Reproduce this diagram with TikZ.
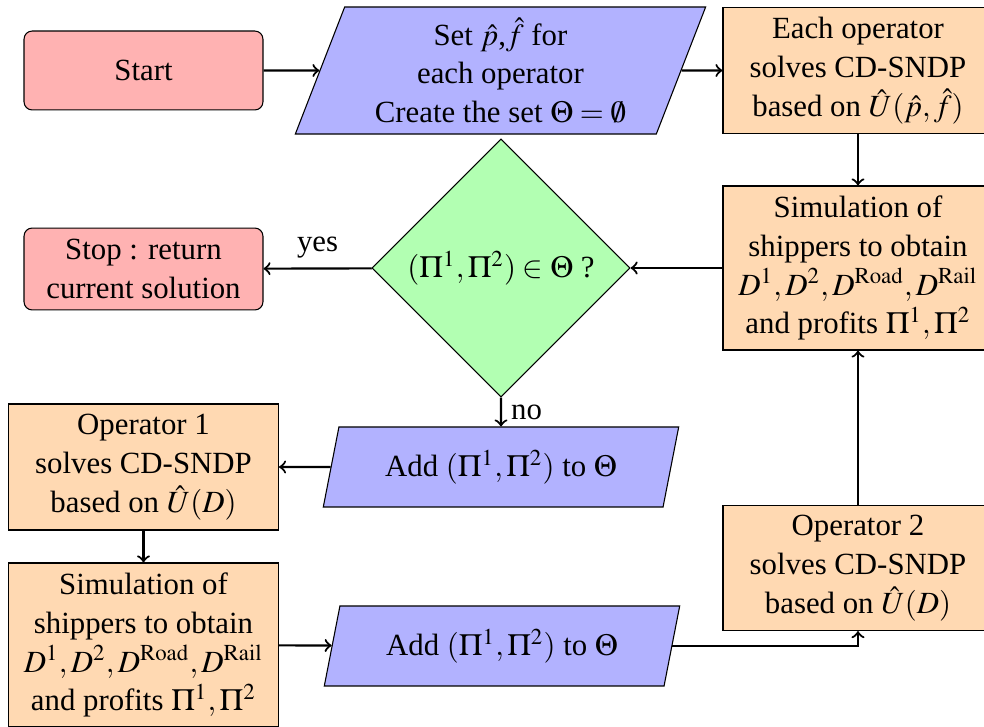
\documentclass[tikz,border=0pt]{standalone}
\usepackage{amsmath}
\usepackage{mathptmx}
\usepackage[no-math]{fontspec}
\setmainfont{Liberation Serif}
\usepackage{xcolor}
\usetikzlibrary{shapes.geometric}

\begin{document}
\begin{tikzpicture}[x=0.37pt,y=-0.37pt,
    font=\rmfamily\fontsize{11.4pt}{14.4pt}\selectfont,
    every node/.style={align=center},
    term/.style={draw,rounded corners=3pt,fill=red!30,minimum width=88.4pt},
    io/.style={draw,trapezium,trapezium stretches=true,fill=blue!30},
    proc/.style={draw,fill=orange!30,minimum width=99.9pt},
    test/.style={draw,diamond,fill=green!30,minimum width=95.5pt,minimum height=95.5pt,inner sep=0pt},
    flow/.style={->,thick}]
      \useasboundingbox (0,0) rectangle (984,727);
      % first row
      \node[term,minimum height=29.2pt] (start) at (143.5,70.5) {Start};
      \node[io,trapezium left angle=71,trapezium right angle=109,minimum width=152pt,minimum height=47pt] (init) at (500.5,70.5)
        {Set $\hat{p}$,$\hat{f}$ for\\ each operator\\ Create the set $\Theta=\emptyset$};
      \node[proc,minimum height=46.3pt] (both) at (858,70.5) {Each operator\\ solves CD-SNDP\\ based on $\hat{U}(\hat{p},\hat{f})$};
      % second row
      \node[test] (check) at (501,268) {$(\Pi^1,\Pi^2)\in\Theta$ ?};
      \node[term,minimum height=30.3pt] (stop) at (143.5,269) {Stop : return\\ current solution};
      \node[proc,minimum height=60.7pt] (simR) at (858,268)
        {Simulation of\\ shippers to obtain\\ $D^1,D^2,D^{\mathrm{Road}},D^{\mathrm{Rail}}$\\ and profits $\Pi^1,\Pi^2$};
      % third row
      \node[io,trapezium left angle=77,trapezium right angle=103,minimum width=131.7pt,minimum height=29.6pt] (addA) at (501,467)
        {Add $(\Pi^1,\Pi^2)$ to $\Theta$};
      \node[proc,minimum height=46.6pt] (opA) at (143.5,467) {Operator 1\\ solves CD-SNDP\\ based on $\hat{U}(D)$};
      \node[proc,minimum height=46.3pt] (opB) at (858,568) {Operator 2\\ solves CD-SNDP\\ based on $\hat{U}(D)$};
      % last row
      \node[proc,minimum height=60.7pt] (simL) at (143.5,645)
        {Simulation of\\ shippers to obtain\\ $D^1,D^2,D^{\mathrm{Road}},D^{\mathrm{Rail}}$\\ and profits $\Pi^1,\Pi^2$};
      \node[io,trapezium left angle=77,trapezium right angle=103,minimum width=131.7pt,minimum height=29.6pt] (addB) at (502,646)
        {Add $(\Pi^1,\Pi^2)$ to $\Theta$};
      % arrows
      \draw[flow] (start) -- (init);
      \draw[flow] (init) -- (both);
      \draw[flow] (both) -- (simR);
      \draw[flow] (simR) -- (check);
      \draw[flow] (check) -- node[above] {yes} (stop);
      \draw[flow] (check) -- node[right] {no} (addA);
      \draw[flow] (addA) -- (opA);
      \draw[flow] (opA) -- (simL);
      \draw[flow] (simL) -- (addB);
      \draw[flow] (addB) -| (opB);
      \draw[flow] (opB) -- (simR);
    \end{tikzpicture}
\end{document}
